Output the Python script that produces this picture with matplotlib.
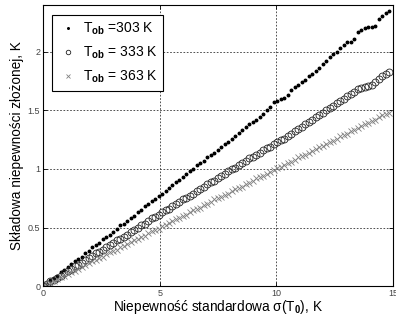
import numpy as np
import matplotlib
matplotlib.use("Agg")
from matplotlib import pyplot as plt

plt.rcParams['font.family'] = ['Liberation Sans', 'DejaVu Sans']
plt.rcParams['mathtext.fontset'] = 'custom'
plt.rcParams['mathtext.rm'] = 'Liberation Sans'
plt.rcParams['mathtext.bf'] = 'Liberation Sans:bold'

# niepewnosc standardowa sigma(T0), K  (krok 0.15 K)
sigma = np.round(np.arange(100) * 0.15, 2)

# T_ob = 303 K
u_303 = [0.00, 0.02, 0.05, 0.07, 0.09, 0.12, 0.14, 0.16, 0.19, 0.21,
         0.23, 0.25, 0.28, 0.30, 0.33, 0.35, 0.37, 0.40, 0.42, 0.44,
         0.46, 0.49, 0.52, 0.53, 0.56, 0.58, 0.60, 0.63, 0.65, 0.68,
         0.70, 0.73, 0.74, 0.77, 0.79, 0.81, 0.84, 0.86, 0.89, 0.91,
         0.93, 0.96, 0.98, 1.00, 1.03, 1.05, 1.07, 1.10, 1.12, 1.14,
         1.16, 1.19, 1.21, 1.23, 1.26, 1.28, 1.31, 1.33, 1.36, 1.38,
         1.40, 1.42, 1.44, 1.47, 1.50, 1.53, 1.57, 1.58, 1.60, 1.61,
         1.63, 1.67, 1.70, 1.72, 1.74, 1.76, 1.79, 1.81, 1.84, 1.86,
         1.90, 1.92, 1.96, 1.98, 2.00, 2.03, 2.06, 2.08, 2.08, 2.11,
         2.17, 2.19, 2.20, 2.21, 2.21, 2.22, 2.28, 2.31, 2.33, 2.35]

# T_ob = 333 K
u_333 = [0.00, 0.02, 0.04, 0.05, 0.07, 0.09, 0.11, 0.13, 0.15, 0.17,
         0.18, 0.20, 0.22, 0.24, 0.26, 0.28, 0.29, 0.31, 0.33, 0.35,
         0.37, 0.39, 0.40, 0.42, 0.44, 0.46, 0.48, 0.50, 0.52, 0.53,
         0.56, 0.58, 0.59, 0.61, 0.63, 0.65, 0.66, 0.68, 0.70, 0.72,
         0.74, 0.75, 0.77, 0.79, 0.81, 0.83, 0.85, 0.87, 0.89, 0.90,
         0.92, 0.94, 0.96, 0.98, 1.00, 1.01, 1.03, 1.05, 1.07, 1.09,
         1.10, 1.12, 1.14, 1.16, 1.18, 1.19, 1.21, 1.23, 1.25, 1.26,
         1.28, 1.30, 1.32, 1.34, 1.36, 1.38, 1.40, 1.42, 1.44, 1.46,
         1.48, 1.50, 1.52, 1.54, 1.56, 1.58, 1.60, 1.62, 1.64, 1.66,
         1.68, 1.69, 1.70, 1.71, 1.72, 1.74, 1.77, 1.79, 1.81, 1.83]

# T_ob = 363 K
u_363 = [0.00, 0.02, 0.03, 0.04, 0.06, 0.08, 0.09, 0.10, 0.12, 0.13,
         0.15, 0.16, 0.18, 0.20, 0.21, 0.22, 0.24, 0.25, 0.27, 0.29,
         0.30, 0.31, 0.33, 0.34, 0.36, 0.38, 0.39, 0.40, 0.42, 0.43,
         0.45, 0.47, 0.48, 0.49, 0.51, 0.52, 0.54, 0.56, 0.57, 0.58,
         0.60, 0.61, 0.63, 0.65, 0.66, 0.67, 0.69, 0.70, 0.72, 0.74,
         0.75, 0.76, 0.78, 0.79, 0.81, 0.83, 0.84, 0.85, 0.87, 0.88,
         0.90, 0.92, 0.93, 0.94, 0.96, 0.97, 0.99, 1.01, 1.02, 1.03,
         1.05, 1.06, 1.08, 1.10, 1.11, 1.12, 1.14, 1.15, 1.17, 1.19,
         1.20, 1.21, 1.23, 1.24, 1.26, 1.28, 1.29, 1.30, 1.32, 1.33,
         1.35, 1.37, 1.38, 1.39, 1.41, 1.42, 1.44, 1.46, 1.47, 1.48]

labels = [r'T$_\mathbf{ob}$ =303 K', r'T$_\mathbf{ob}$ = 333 K', r'T$_\mathbf{ob}$ = 363 K']

fig = plt.figure(figsize=(3.96, 3.24), dpi=100)
ax = fig.add_axes([0.1086, 0.117, 0.8838, 0.8676])

ax.plot(sigma, u_303, ls='none', marker='.', ms=3.6, color='black', label=labels[0])
ax.plot(sigma, u_333, ls='none', marker='o', ms=5, mfc='none', mec='#222222',
        mew=0.6, label=labels[1])
ax.plot(sigma, u_363, ls='none', marker='x', ms=4, color='#808080', mew=0.6,
        label=labels[2])

ax.set_xlim(0, 15)
ax.set_ylim(0, 2.4)
ax.set_xticks([0, 5, 10, 15])
ax.set_yticks([0, 0.5, 1, 1.5, 2])
ax.set_xticklabels(['0', '5', '10', '15'])
ax.set_yticklabels(['0', '0.5', '1', '1.5', '2'])
ax.tick_params(direction='in', top=True, right=True, labelsize=6.5,
               labelcolor='#444444', length=3, width=0.6, pad=2)
ax.grid(True, ls=(0, (2, 2)), color='#333333', lw=0.6)
for s in ax.spines.values():
    s.set_linewidth(0.8)

ax.set_xlabel(r'Niepewność standardowa σ(T$_\mathbf{0}$), K', fontsize=9.8, labelpad=0)
ax.set_ylabel('Składowa niepewności złożonej, K', fontsize=9.8, labelpad=3)

leg = ax.legend(loc='upper left', bbox_to_anchor=(0.026, 0.964), borderaxespad=0,
                fontsize=10, fancybox=False, edgecolor='black', framealpha=1,
                handletextpad=0.3, borderpad=0.4, labelspacing=0.55,
                handlelength=1.5, markerscale=0.65)
leg.get_frame().set_linewidth(0.8)

fig.savefig('out.png', dpi=100)
